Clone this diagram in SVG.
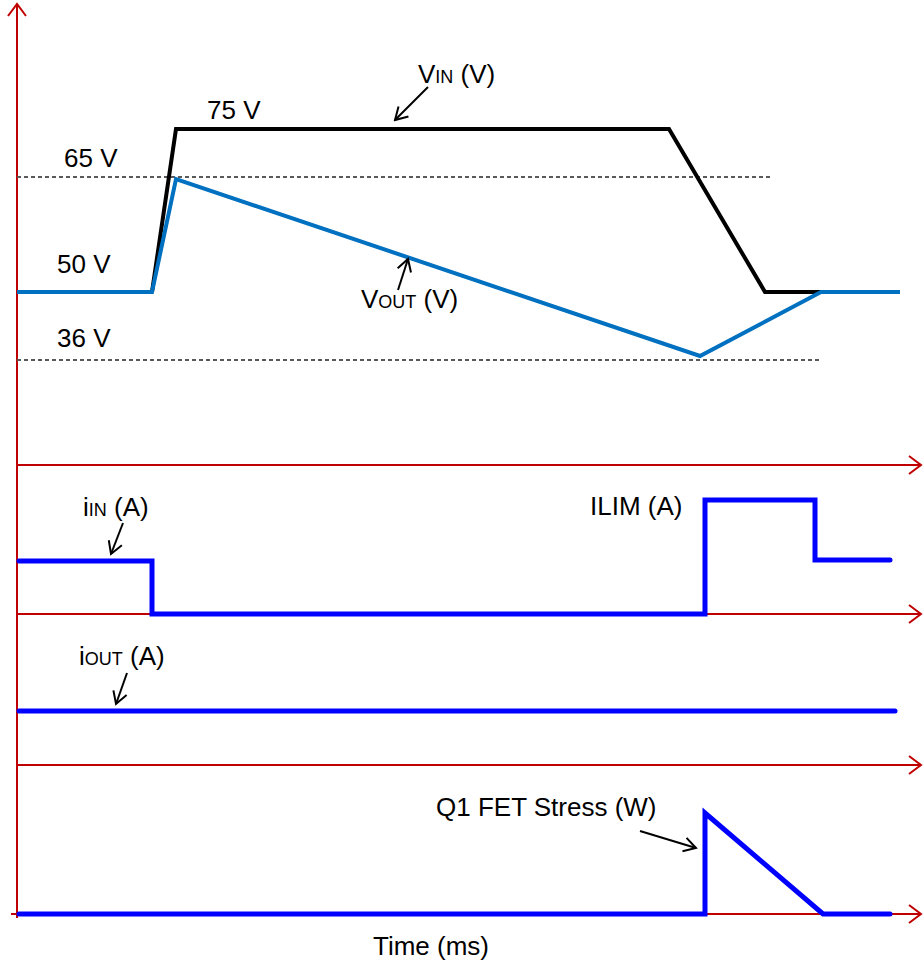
<svg xmlns="http://www.w3.org/2000/svg" width="924" height="968" viewBox="0 0 924 968">
<style>
.ax{stroke:#C00000;stroke-width:2;fill:none}
.dash{stroke:#595959;stroke-width:2;stroke-dasharray:4 3;fill:none}
.blk{stroke:#000;stroke-width:4;fill:none;stroke-linejoin:miter}
.vout{stroke:#0070C0;stroke-width:4;fill:none;stroke-linejoin:miter}
.cur{stroke:#0000FF;stroke-width:5;fill:none;stroke-linejoin:miter;stroke-linecap:round}
.lead{stroke:#000;stroke-width:2;fill:none}
text{font-family:"Liberation Sans",Arial,sans-serif;font-size:26px;fill:#000}
.sub{font-size:18px}
</style>
<defs>
<marker id="ah" viewBox="0 0 20 20" refX="18" refY="10" markerWidth="20" markerHeight="20" markerUnits="userSpaceOnUse" orient="auto">
<path d="M6,1 L18,10 L6,19" fill="none" stroke="#C00000" stroke-width="2"/>
</marker>
<marker id="la" viewBox="0 0 20 20" refX="18" refY="10" markerWidth="20" markerHeight="20" markerUnits="userSpaceOnUse" orient="auto">
<path d="M6,3 L18,10 L6,17" fill="none" stroke="#000" stroke-width="2"/>
</marker>
</defs>
<g id="axes">
<line class="ax" x1="17" y1="918" x2="17" y2="4" marker-end="url(#ah)"/>
<line class="ax" x1="17" y1="465" x2="921" y2="465" marker-end="url(#ah)"/>
<line class="ax" x1="17" y1="614" x2="921" y2="614" marker-end="url(#ah)"/>
<line class="ax" x1="17" y1="765" x2="921" y2="765" marker-end="url(#ah)"/>
<line class="ax" x1="11" y1="914" x2="921" y2="914" marker-end="url(#ah)"/>
</g>
<g id="refs">
<line class="dash" x1="17" y1="177" x2="771" y2="177"/>
<line class="dash" x1="17" y1="360" x2="820" y2="360"/>
</g>
<g id="vin">
<polyline class="blk" points="152,292 176,129 669,129 765,292 821,292"/>
</g>
<g id="vout">
<polyline class="vout" points="17,292 152,292 176,179 700,356 821,292 900,292"/>
</g>
<g id="iin">
<polyline class="cur" points="19,561 152,561 152,614 705,614 705,500 815,500 815,560 890,560"/>
</g>
<g id="iout">
<line class="cur" x1="19" y1="711" x2="895" y2="711"/>
</g>
<g id="q1">
<polyline class="cur" points="19,914 705,914 705,813 823,914 890,914"/>
</g>
<g id="labels">
<text x="207" y="119">75 V</text>
<text x="64" y="167">65 V</text>
<text x="57" y="273">50 V</text>
<text x="57" y="347">36 V</text>
<text x="418" y="83">V<tspan class="sub">IN</tspan> (V)</text>
<text x="361" y="308">V<tspan class="sub">OUT</tspan> (V)</text>
<text x="83" y="516">i<tspan class="sub">IN</tspan> (A)</text>
<text x="590" y="515">ILIM (A)</text>
<text x="79" y="665">i<tspan class="sub">OUT</tspan> (A)</text>
<text x="436" y="816">Q1 FET Stress (W)</text>
<text x="431" y="955" text-anchor="middle">Time (ms)</text>
</g>
<g id="connectors">
<line class="lead" x1="428" y1="87" x2="395" y2="120" marker-end="url(#la)"/>
<line class="lead" x1="398" y1="290" x2="408" y2="259" marker-end="url(#la)"/>
<line class="lead" x1="123" y1="523" x2="111" y2="554" marker-end="url(#la)"/>
<line class="lead" x1="127" y1="673" x2="116" y2="704" marker-end="url(#la)"/>
<line class="lead" x1="640" y1="831" x2="696" y2="848" marker-end="url(#la)"/>
</g>
</svg>
